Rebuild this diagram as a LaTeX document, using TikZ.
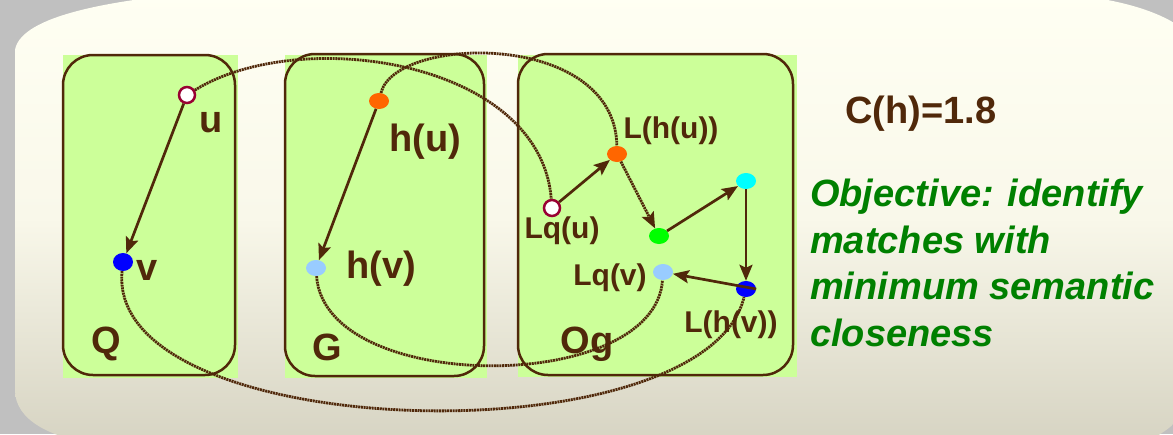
\documentclass[tikz,border=0pt]{standalone}
\usepackage{fontspec}
\setmainfont{Liberation Sans}
\usepackage{tikz}
\usetikzlibrary{arrows.meta, shapes.geometric}
\usepackage{xcolor}
\definecolor{darkbrown}{RGB}{80,40,10}
\definecolor{leafgreen}{RGB}{204,255,153}
\definecolor{textgreen}{RGB}{0,128,0}
\definecolor{rimred}{RGB}{153,0,51}
\definecolor{hotorange}{RGB}{255,102,0}
\definecolor{paleblue}{RGB}{153,204,255}
\definecolor{puregreen}{RGB}{0,255,0}
\definecolor{purecyan}{RGB}{0,255,255}
\definecolor{pureblue}{RGB}{0,0,255}
\definecolor{creamtop}{RGB}{255,255,243}
\definecolor{creammid}{RGB}{249,248,234}
\definecolor{creambot}{RGB}{214,211,194}
\definecolor{slidegrey}{RGB}{192,192,192}

\begin{document}
\begin{tikzpicture}[x=1pt, y=-1pt, >={Stealth[length=16pt, width=13pt, inset=3pt]},
  vertex/.style={ellipse, minimum width=20pt, minimum height=16pt, inner sep=0pt},
  hollow/.style={circle, draw=rimred, line width=2.5pt, fill=white, minimum size=16pt, inner sep=0pt},
  biglbl/.style={anchor=base, inner sep=0pt, text=darkbrown, font=\fontsize{38}{44}\selectfont\bfseries},
  smalllbl/.style={anchor=base, inner sep=0pt, text=darkbrown, font=\fontsize{30}{36}\selectfont\bfseries},
  frame/.style={draw=darkbrown, line width=2.5pt, rounded corners=30pt},
  link/.style={->, darkbrown, line width=2.7pt},
  match/.style={darkbrown, line width=2.8pt, dash pattern=on 2pt off 0.7pt}]
  \useasboundingbox (0,0) rectangle (1173,434);

  % Slide background
  \fill[slidegrey] (0,0) rectangle (1173,434);
  \shade[top color=creamtop, bottom color=creambot, middle color=creammid]
    (15,50) .. controls (20,20) and (90,0) .. (230,-10) -- (1000,-10)
    .. controls (1090,-8) and (1165,5) .. (1195,40) -- (1190,390)
    .. controls (1185,420) and (1170,430) .. (1140,445) -- (100,445)
    .. controls (50,438) and (15,420) .. (15,390) -- cycle;

  % Panels Q, G and Og
  \fill[leafgreen] (63,55) rectangle (238,378);
  \draw[frame] (63,55) rectangle (235,375);
  \fill[leafgreen] (285,55) rectangle (487,378);
  \draw[frame] (285,54) rectangle (484,376);
  \fill[leafgreen] (518,55) rectangle (797,377);
  \draw[frame] (518,54) rectangle (793,375);

  % Pattern Q
  \node[hollow] (u) at (187,95) {};
  \node[vertex, fill=pureblue, minimum height=18pt] (v) at (123,262) {};
  \node[biglbl] (ulab) at (211,132) {u};
  \node[biglbl] (vlab) at (147,280) {v};
  \node[biglbl] (qlab) at (106,353) {Q};

  % Data graph G
  \node[vertex, fill=hotorange] (hu) at (379,101) {};
  \node[vertex, fill=paleblue] (hv) at (316,268) {};
  \node[biglbl] (hulab) at (425,151) {h(u)};
  \node[biglbl] (hvlab) at (381,278) {h(v)};
  \node[biglbl] (glab) at (327,360) {G};

  % Ontology graph Og
  \node[hollow] (lqu) at (552,208) {};
  \node[vertex, fill=hotorange] (lhu) at (617,154) {};
  \node[vertex, fill=puregreen] (mid) at (659,236) {};
  \node[vertex, fill=purecyan] (top) at (746,181) {};
  \node[vertex, fill=pureblue] (lhv) at (746,289) {};
  \node[vertex, fill=paleblue] (lqv) at (663,272) {};
  \node[smalllbl] (lqulab) at (562,238) {Lq(u)};
  \node[smalllbl] (lhulab) at (671,138) {L(h(u))};
  \node[smalllbl] (lqvlab) at (610,285) {Lq(v)};
  \node[smalllbl] (lhvlab) at (731,332) {L(h(v))};
  \node[biglbl] (oglab) at (587,353) {Og};

  % Edges
  \draw[link] (u) -- (v);
  \draw[link] (hu) -- (hv);
  \draw[link] (lqu) -- (lhu);
  \draw[link] (mid) -- (top);
  \draw[link] (top) -- (lhv);
  \draw[link] (lhv.east) -- (lqv);
  \draw[match, ->] (lhu) -- (mid);

  % Matching curves
  \draw[match] (u) .. controls (300,25) and (540,60) .. (lqu);
  \draw[match] (hu) .. controls (395,35) and (615,30) .. (lhu);
  \draw[match] (v) .. controls (105,445) and (705,460) .. (lhv);
  \draw[match] (hv) .. controls (325,395) and (655,395) .. (lqv);

  % Cost and objective
  \node[biglbl, anchor=base west] (cost) at (845,123) {C(h)=1.8};
  \node[anchor=north west, inner sep=0pt, align=left, text=textgreen,
        font=\fontsize{38}{46.5}\selectfont\bfseries\itshape] (goal) at (810,179)
    {Objective: identify\\matches with\\minimum semantic\\closeness};
\end{tikzpicture}
\end{document}
